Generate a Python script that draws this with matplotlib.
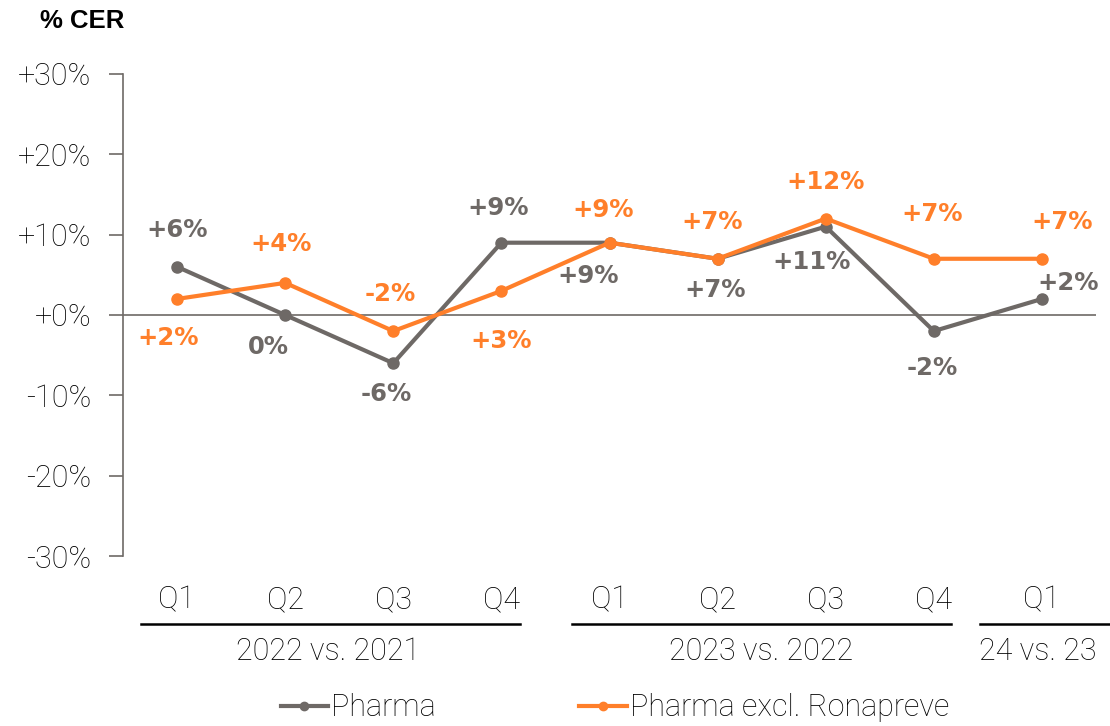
import matplotlib
matplotlib.use("Agg")
import matplotlib.pyplot as plt
import matplotlib.transforms as mtransforms
from matplotlib.lines import Line2D

plt.rcParams['font.family'] = ['Roboto', 'DejaVu Sans']
plt.rcParams['font.weight'] = 'light'

# data
quarters = ["Q1", "Q2", "Q3", "Q4", "Q1", "Q2", "Q3", "Q4", "Q1"]
groups = ["2022 vs. 2021", "2023 vs. 2022", "24 vs. 23"]
pharma = [6, 0, -6, 9, 9, 7, 11, -2, 2]
pharma_excl = [2, 4, -2, 3, 9, 7, 12, 7, 7]
yticks = [-30, -20, -10, 0, 10, 20, 30]

GRAY = "#6e6966"
ORANGE = "#ff7f2a"

# label offsets in pixels (dx, dy)
off_pharma = [(0, 37), (-17, -32), (-7, -31), (-3, 35), (-21, -33), (-2, -31), (-14, -35), (-2, -37), (26, 16)]
off_excl = [(-9, -39), (-4, 39), (-3, 37), (0, -50), (-6, 33), (-5, 37), (0, 37), (-2, 45), (20, 37)]

fig = plt.figure(figsize=(11.1, 7.26), dpi=100)
ax = fig.add_axes([123 / 1110, 1 - 556 / 726, (1096 - 123) / 1110, (556 - 74) / 726])

x = list(range(len(quarters)))
ax.plot(x, pharma, color=GRAY, lw=3, marker="o", ms=8, zorder=3)
ax.plot(x, pharma_excl, color=ORANGE, lw=3, marker="o", ms=8, zorder=4)
ax.axhline(0, color=GRAY, lw=1.2, zorder=1)

lab_font = dict(ha="center", va="center", fontsize=17.5, fontweight="bold",
                family=["DejaVu Sans"])
for i, v in enumerate(pharma):
    s = ("+%d%%" % v) if v > 0 else ("%d%%" % v)
    ax.annotate(s, (i, v), xytext=off_pharma[i], textcoords="offset pixels",
                color=GRAY, **lab_font)
for i, v in enumerate(pharma_excl):
    s = ("+%d%%" % v) if v > 0 else ("%d%%" % v)
    ax.annotate(s, (i, v), xytext=off_excl[i], textcoords="offset pixels",
                color=ORANGE, **lab_font)

ax.set_xlim(-0.5, 8.5)
ax.set_ylim(-30, 30)
ax.set_yticks(yticks)
ax.set_yticklabels([("+%d%%" % t) if t >= 0 else ("%d%%" % t) for t in yticks], fontsize=22)
ax.tick_params(axis="y", length=10, width=1.2, color=GRAY, pad=13)
ax.set_xticks([])
for sp in ["top", "right", "bottom"]:
    ax.spines[sp].set_visible(False)
ax.spines["left"].set_color(GRAY)
ax.spines["left"].set_linewidth(1.2)

trans = mtransforms.blended_transform_factory(ax.transData, fig.transFigure)
for i, q in enumerate(quarters):
    ax.text(i, 1 - 600 / 726, q, transform=trans, ha="center", va="center", fontsize=22)

brackets = [(-0.33, 3.17), (3.65, 7.16), (7.43, 8.62)]
centers = [1.4, 5.4, 7.96]
for (a, b), c, g in zip(brackets, centers, groups):
    ax.plot([a, b], [1 - 624 / 726] * 2, transform=trans, color="black", lw=1.8, clip_on=False)
    ax.text(c, 1 - 652 / 726, g, transform=trans, ha="center", va="center", fontsize=22)

fig.text(40 / 1110, 1 - 21 / 726, "% CER", fontsize=18.5, fontweight="bold",
         va="center", ha="left", family=["Liberation Sans", "DejaVu Sans"])

handles = [Line2D([], [], color=GRAY, lw=3, marker="o", ms=6),
           Line2D([], [], color=ORANGE, lw=3, marker="o", ms=6)]
fig.legend(handles, ["Pharma", "Pharma excl. Ronapreve"], loc="center",
           bbox_to_anchor=(615 / 1110, 1 - 708 / 726), ncol=2, frameon=False,
           fontsize=22, handlelength=1.55, handletextpad=0.1, columnspacing=4.7)

fig.savefig("out.png", dpi=100)
